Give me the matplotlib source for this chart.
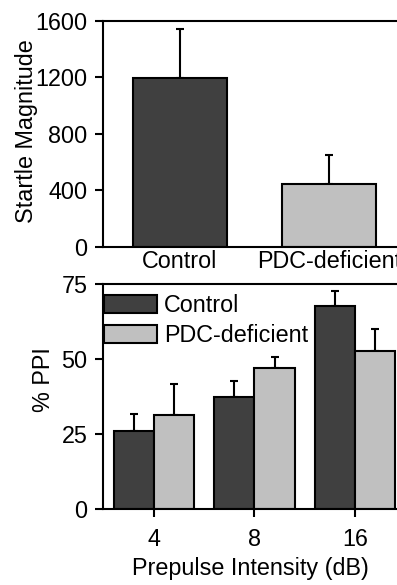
import matplotlib
matplotlib.use("Agg")
import matplotlib.pyplot as plt
import numpy as np

plt.rcParams['font.family'] = ['Liberation Sans', 'DejaVu Sans']
plt.rcParams['font.size'] = 16.8

groups = ["Control", "PDC-deficient"]
startle = [1192, 446]
startle_err = [349, 203]

intensities = ["4", "8", "16"]
ppi_control = [26.0, 37.5, 67.8]
ppi_control_err = [5.8, 5.2, 5.0]
ppi_pdc = [31.4, 46.9, 52.7]
ppi_pdc_err = [10.4, 3.8, 7.2]

dark = "#404040"
light = "#c0c0c0"

fig = plt.figure(figsize=(3.97, 5.85), dpi=100)
ax1 = fig.add_axes([0.2594, 0.5783, 0.7406, 0.3863])
ax2 = fig.add_axes([0.2594, 0.1294, 0.7406, 0.3851])

lw = 1.5
for ax in (ax1, ax2):
    ax.spines['right'].set_visible(False)
    for s in ('left', 'top', 'bottom'):
        ax.spines[s].set_linewidth(lw)
    ax.tick_params(direction='out', length=6, width=lw)
    ax.tick_params(axis='y', pad=5)

# top panel
x1 = np.arange(len(groups))
ax1.bar(x1, startle, width=0.63, color=[dark, light], edgecolor='black', linewidth=lw, zorder=2)
ax1.errorbar(x1, startle, yerr=[np.zeros(2), startle_err], fmt='none', ecolor='black',
             elinewidth=lw, capsize=3, capthick=lw, zorder=1)
ax1.set_xlim(-0.517, 1.456)
ax1.set_ylim(0, 1600)
ax1.set_yticks([0, 400, 800, 1200, 1600])
ax1.set_xticks(x1)
ax1.set_xticklabels(groups)
ax1.tick_params(axis='x', length=0, pad=2.5)
ax1.set_ylabel("Startle Magnitude")
ax1.yaxis.set_label_coords(-0.221, 0.512)

# bottom panel
x2 = np.arange(len(intensities))
w = 0.4
ax2.bar(x2 - w / 2, ppi_control, width=w, color=dark, edgecolor='black', linewidth=lw,
        label="Control", zorder=2)
ax2.bar(x2 + w / 2, ppi_pdc, width=w, color=light, edgecolor='black', linewidth=lw,
        label="PDC-deficient", zorder=2)
ax2.errorbar(x2 - w / 2, ppi_control, yerr=[np.zeros(3), ppi_control_err], fmt='none',
             ecolor='black', elinewidth=lw, capsize=3, capthick=lw, zorder=1)
ax2.errorbar(x2 + w / 2, ppi_pdc, yerr=[np.zeros(3), ppi_pdc_err], fmt='none',
             ecolor='black', elinewidth=lw, capsize=3, capthick=lw, zorder=1)
ax2.set_xlim(-0.507, 2.418)
ax2.set_ylim(0, 75)
ax2.set_yticks([0, 25, 50, 75])
ax2.set_xticks(x2)
ax2.set_xticklabels(intensities)
ax2.tick_params(axis='x', pad=7.5)
ax2.set_ylabel("% PPI")
ax2.yaxis.set_label_coords(-0.163, 0.574)
ax2.set_xlabel("Prepulse Intensity (dB)", labelpad=4)
ax2.legend(loc='upper left', frameon=False, handlelength=2.25, handleheight=0.85,
           handletextpad=0.3, labelspacing=0.3, borderaxespad=0.0, borderpad=0.0,
           bbox_to_anchor=(0.005, 0.955))

fig.savefig("out.png", dpi=100)
